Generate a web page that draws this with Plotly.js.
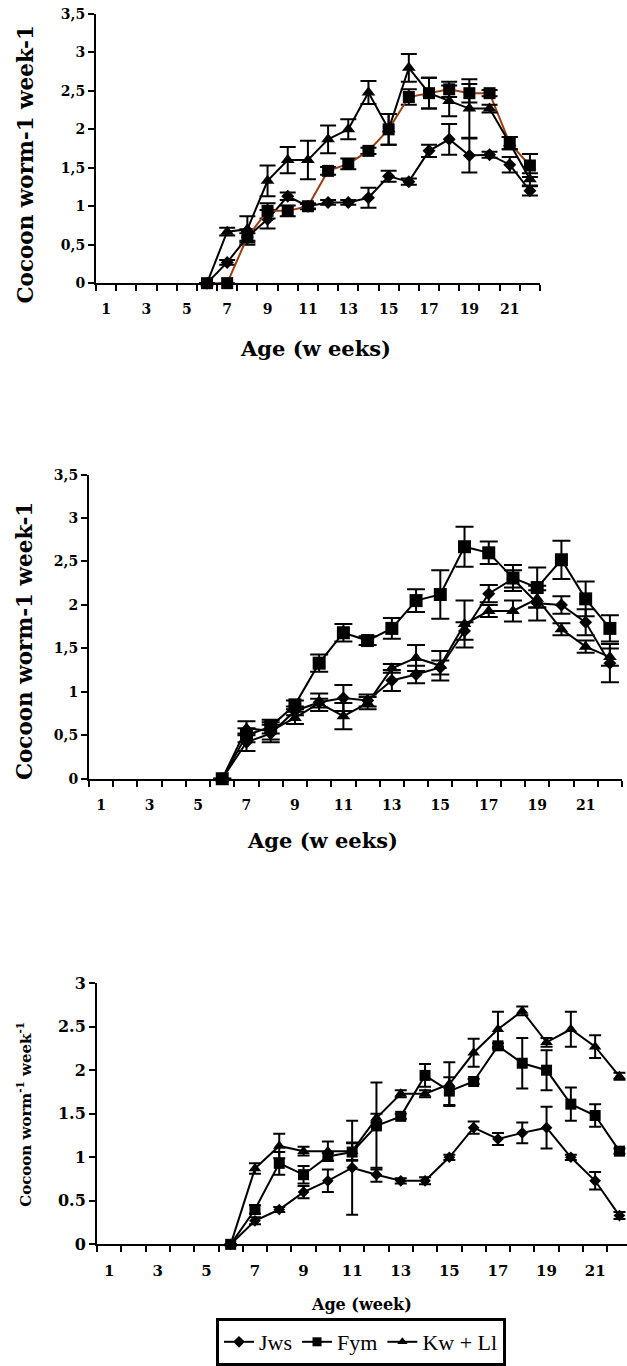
<!DOCTYPE html>
<html>
<head>
<meta charset="utf-8">
<script src="https://cdn.plot.ly/plotly-3.0.1.min.js"></script>
<style>html,body{margin:0;padding:0;background:#fff;}#chart{width:627px;height:1366px;}</style>
</head>
<body>
<div id="chart"></div>
<script>
// ---------- DATA ----------
const weeks = [6,7,8,9,10,11,12,13,14,15,16,17,18,19,20,21,22];
const xTickVals = [1,3,5,7,9,11,13,15,17,19,21];
const xTickText = ["1","3","5","7","9","11","13","15","17","19","21"];
const seriesNames = ["Jws","Fym","Kw + Ll"];

// Panel 1
const jws1    = [0,0.27,0.6,0.83,1.13,1.0,1.05,1.05,1.11,1.39,1.32,1.72,1.87,1.66,1.67,1.54,1.2];
const jws1Err = [0,0.03,0.05,0.12,0.05,0.03,0.03,0.03,0.13,0.07,0.04,0.08,0.2,0.22,0.04,0.1,0.06];
const fym1    = [0,0,0.6,0.94,0.94,1.0,1.46,1.55,1.72,2.0,2.42,2.47,2.52,2.47,2.47,1.82,1.53];
const fym1Err = [0,0,0.1,0.1,0.07,0.04,0.05,0.07,0.04,0.2,0.1,0.2,0.1,0.12,0.04,0.08,0.15];
const kw1     = [0,0.67,0.7,1.33,1.6,1.6,1.87,2.0,2.48,2.0,2.8,2.47,2.37,2.27,2.27,1.82,1.35];
const kw1Err  = [0,0.05,0.17,0.2,0.17,0.25,0.18,0.13,0.15,0.2,0.18,0.2,0.2,0.38,0.05,0.08,0.08];
const y1TickVals = [0,0.5,1,1.5,2,2.5,3,3.5];
const y1TickText = ["0","0,5","1","1,5","2","2,5","3","3,5"];

// Panel 2
const jws2    = [0,0.42,0.52,0.78,0.88,0.93,0.9,1.13,1.2,1.28,1.7,2.13,2.3,2.02,2.0,1.8,1.33];
const jws2Err = [0,0.1,0.1,0.05,0.1,0.15,0.07,0.12,0.1,0.08,0.1,0.1,0.1,0.2,0.1,0.15,0.22];
const fym2    = [0,0.5,0.6,0.85,1.33,1.68,1.59,1.73,2.05,2.12,2.67,2.6,2.31,2.2,2.52,2.07,1.73];
const fym2Err = [0,0.08,0.08,0.05,0.1,0.1,0.05,0.12,0.13,0.28,0.23,0.13,0.15,0.23,0.22,0.2,0.15];
const kw2     = [0,0.58,0.55,0.7,0.87,0.72,0.87,1.27,1.39,1.3,1.78,1.93,1.93,2.07,1.72,1.52,1.4];
const kw2Err  = [0,0.08,0.1,0.07,0.05,0.15,0.07,0.05,0.15,0.17,0.27,0.07,0.12,0.1,0.07,0.07,0.1];

// Panel 3
const jws3    = [0,0.27,0.4,0.6,0.73,0.88,0.8,0.73,0.73,1.0,1.34,1.21,1.28,1.34,1.0,0.73,0.33];
const jws3Err = [0,0.04,0.03,0.07,0.13,0.54,0.08,0.03,0.04,0.03,0.07,0.07,0.12,0.24,0.03,0.1,0.04];
const fym3    = [0,0.4,0.93,0.8,1.01,1.06,1.36,1.47,1.94,1.76,1.87,2.28,2.08,2.0,1.61,1.48,1.07];
const fym3Err = [0,0.05,0.13,0.1,0.05,0.1,0.5,0.03,0.13,0.16,0.03,0.03,0.29,0.23,0.19,0.13,0.03];
const kw3     = [0,0.87,1.13,1.07,1.07,1.07,1.45,1.73,1.73,1.84,2.2,2.47,2.68,2.32,2.47,2.27,1.93];
const kw3Err  = [0,0.06,0.14,0.05,0.11,0.1,0.05,0.04,0.04,0.25,0.16,0.2,0.05,0.05,0.2,0.13,0.04];
const y3TickVals = [0,0.5,1,1.5,2,2.5,3];
const y3TickText = ["0","0.5","1","1.5","2","2.5","3"];

// ---------- BUILD ----------
const W = 627, H = 1366;
const px = v => v / W;
const py = v => 1 - v / H;
const SERIF = "DejaVu Serif";
const BROWN = "#9c3d12";

function trace(xa, ya, y, err, symbol, size, lineColor, capW) {
  return {
    type: "scatter", mode: "lines+markers", x: weeks, y: y,
    xaxis: xa, yaxis: ya, showlegend: false, cliponaxis: false,
    line: {color: lineColor, width: 2},
    marker: {symbol: symbol, size: size, color: "black", line: {width: 0}},
    error_y: {type: "data", array: err, visible: true, color: "black", thickness: 2, width: capW}
  };
}

const data = [
  trace("x","y",jws1,jws1Err,"diamond",10,"black",8),
  trace("x","y",fym1,fym1Err,"square",12,BROWN,8),
  trace("x","y",kw1,kw1Err,"triangle-up",12,"black",8),
  trace("x2","y2",jws2,jws2Err,"diamond",10,"black",9),
  trace("x2","y2",fym2,fym2Err,"square",13,"black",9),
  trace("x2","y2",kw2,kw2Err,"triangle-up",12,"black",9),
  trace("x3","y3",jws3,jws3Err,"diamond",9,"black",6),
  trace("x3","y3",fym3,fym3Err,"square",11,"black",6),
  trace("x3","y3",kw3,kw3Err,"triangle-up",11,"black",6)
];
// legend-only entries
["diamond","square","triangle-up"].forEach((s, i) => {
  data.push({type:"scatter", mode:"lines+markers", x:[null], y:[null], xaxis:"x3", yaxis:"y3",
    name: seriesNames[i], showlegend:true,
    line:{color:"black", width:2}, marker:{symbol:s, size:9, color:"black"}});
});

function xAxis(domain, range, anchor, fs) {
  return {
    domain: domain, range: range, anchor: anchor, fixedrange: true,
    showgrid: false, zeroline: false, showline: true, linecolor: "black", linewidth: 2,
    tickmode: "array", tickvals: xTickVals, ticktext: xTickText, ticks: "",
    ticklabelstandoff: 12,
    tickfont: {family: SERIF, size: fs, color: "black", weight: "bold"},
    minor: {tickmode: "linear", tick0: 0.5, dtick: 1, ticks: "outside", ticklen: 6, tickwidth: 2, tickcolor: "black", showgrid: false}
  };
}
function yAxis(domain, range, anchor, tv, tt, fs) {
  return {
    domain: domain, range: range, anchor: anchor, fixedrange: true,
    showgrid: false, zeroline: false, showline: true, linecolor: "black", linewidth: 2,
    tickmode: "array", tickvals: tv, ticktext: tt, ticks: "outside", ticklen: 6, tickwidth: 2, tickcolor: "black",
    tickfont: {family: SERIF, size: fs, color: "black", weight: "bold"}
  };
}

const layout = {
  width: W, height: H, margin: {l:0, r:0, t:0, b:0}, paper_bgcolor: "white", plot_bgcolor: "white",
  showlegend: true,
  xaxis:  xAxis([px(96), px(540)], [0.5, 22.5], "y", 14),
  yaxis:  yAxis([py(284), py(14)], [0, 3.5], "x", y1TickVals, y1TickText, 14),
  xaxis2: xAxis([px(89), px(622)], [0.5, 22.5], "y2", 14),
  yaxis2: yAxis([py(781), py(476)], [0, 3.5], "x2", y1TickVals, y1TickText, 14),
  xaxis3: xAxis([px(97), 1], [0.5, 0.5 + 530/24.3], "y3", 15),
  yaxis3: yAxis([py(1248), py(986)], [0, 3], "x3", y3TickVals, y3TickText, 16),
  legend: {
    orientation: "h", x: px(361), xanchor: "center", y: py(1322), yanchor: "top",
    bordercolor: "black", borderwidth: 3, bgcolor: "white",
    font: {family: "Liberation Serif", size: 22, color: "black"},
    itemwidth: 30, tracegroupgap: 0
  },
  annotations: [
    {text: "Cocoon worm-1 week-1", x: px(26), y: py(165), xref:"paper", yref:"paper", textangle:-90, showarrow:false,
     xanchor:"center", yanchor:"middle", font:{family:SERIF, size:21.5, color:"black", weight:"bold"}},
    {text: "Age (w eeks)", x: px(315), y: py(350), xref:"paper", yref:"paper", showarrow:false,
     xanchor:"center", yanchor:"middle", font:{family:SERIF, size:21, color:"black", weight:"bold"}},
    {text: "Cocoon worm-1 week-1", x: px(24), y: py(643), xref:"paper", yref:"paper", textangle:-90, showarrow:false,
     xanchor:"center", yanchor:"middle", font:{family:SERIF, size:21.5, color:"black", weight:"bold"}},
    {text: "Age (w eeks)", x: px(322), y: py(843), xref:"paper", yref:"paper", showarrow:false,
     xanchor:"center", yanchor:"middle", font:{family:SERIF, size:21, color:"black", weight:"bold"}},
    {text: "Cocoon worm<sup>-1</sup> week<sup>-1</sup>", x: px(24), y: py(1118), xref:"paper", yref:"paper", textangle:-90, showarrow:false,
     xanchor:"center", yanchor:"middle", font:{family:SERIF, size:15, color:"black", weight:"bold"}},
    {text: "Age (week)", x: px(361), y: py(1308), xref:"paper", yref:"paper", showarrow:false,
     xanchor:"center", yanchor:"middle", font:{family:SERIF, size:16, color:"black", weight:"bold"}}
  ]
};

Plotly.newPlot("chart", data, layout, {staticPlot: true, displayModeBar: false});
</script>
</body>
</html>
